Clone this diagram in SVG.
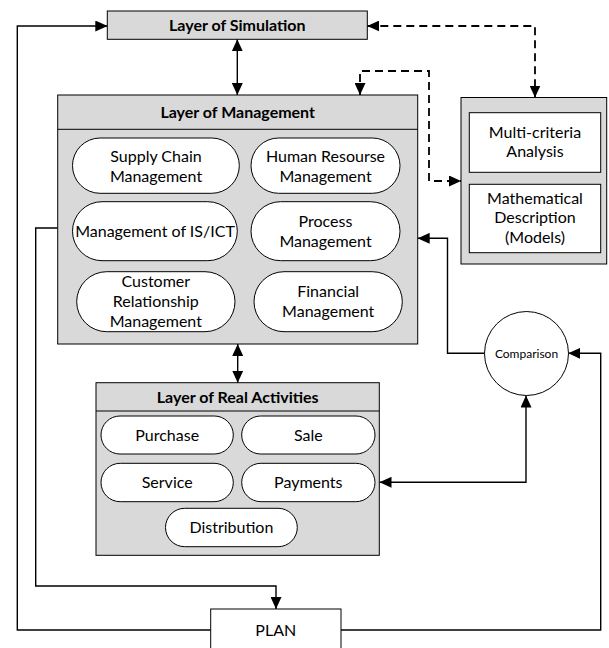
<svg xmlns="http://www.w3.org/2000/svg" width="609" height="648" viewBox="0 0 609 648">
<style>
  .layer { fill: #d9d9d9; stroke: #000; stroke-width: 1; }
  .white { fill: #fff; stroke: #000; stroke-width: 1; }
  .conn { fill: none; stroke: #000; stroke-width: 1.4; }
  .dash { fill: none; stroke: #000; stroke-width: 1.8; stroke-dasharray: 8 5; }
  .t { font-family: Lato, "Liberation Sans", sans-serif; font-size: 16px; fill: #000; text-anchor: middle; }
  .b { font-weight: bold; }
  .s { font-size: 12px; }
</style>
<defs>
  <marker id="arr" markerUnits="userSpaceOnUse" markerWidth="12" markerHeight="11" viewBox="0 0 12 11" refX="12" refY="5.5" orient="auto-start-reverse">
    <path d="M0,0 L12,5.5 L0,11 z" fill="#000"/>
  </marker>
</defs>

<g id="connectors">
  <path class="conn" d="M210.7,630 H17.3 V26 H107.3" marker-end="url(#arr)"/>
  <path class="conn" d="M341,630 H600.7 V353.3 H568.3" marker-end="url(#arr)"/>
  <path class="conn" d="M57.7,228 H35.7 V586 H276 V609" marker-end="url(#arr)"/>
  <path class="conn" d="M237.3,39.3 V95" marker-start="url(#arr)" marker-end="url(#arr)"/>
  <path class="conn" d="M237.7,344 V382.7" marker-start="url(#arr)" marker-end="url(#arr)"/>
  <path class="conn" d="M485,353.3 H447.5 V238.3 H417.7" marker-end="url(#arr)"/>
  <path class="conn" d="M379.5,482.3 H526 V395.5" marker-start="url(#arr)" marker-end="url(#arr)"/>
  <path class="dash" d="M367.3,26 H535 V97.5" marker-start="url(#arr)" marker-end="url(#arr)"/>
  <path class="dash" d="M360,95 V71 H429 V181 H461" marker-start="url(#arr)" marker-end="url(#arr)"/>
</g>

<g id="layer-simulation">
  <rect class="layer" x="107.3" y="11" width="260" height="28.3"/>
  <text class="t b" x="237.3" y="30.5">Layer of Simulation</text>
</g>

<g id="layer-management">
  <rect class="layer" x="57.7" y="95" width="360" height="249"/>
  <line x1="57.7" y1="129.3" x2="417.7" y2="129.3" stroke="#000" stroke-width="1"/>
  <text class="t b" x="237.7" y="117.5">Layer of Management</text>
</g>
<g id="supply-chain">
  <rect class="white" x="72.5" y="138" width="166.8" height="55.3" rx="27.6"/>
  <text class="t" x="156" y="161.5">Supply Chain</text>
  <text class="t" x="156" y="181.5">Management</text>
</g>
<g id="human-resourse">
  <rect class="white" x="251" y="138" width="149" height="55.3" rx="27.6"/>
  <text class="t" x="325.5" y="161.5">Human Resourse</text>
  <text class="t" x="325.5" y="181.5">Management</text>
</g>
<g id="is-ict">
  <rect class="white" x="72.5" y="201.7" width="164.8" height="59" rx="29.5"/>
  <text class="t" x="155" y="236.7">Management of IS/ICT</text>
</g>
<g id="process">
  <rect class="white" x="251" y="201.7" width="149" height="59" rx="29.5"/>
  <text class="t" x="325.5" y="226.7">Process</text>
  <text class="t" x="325.5" y="246.7">Management</text>
</g>
<g id="customer">
  <rect class="white" x="76.7" y="271.7" width="158.3" height="60" rx="30"/>
  <text class="t" x="155.8" y="287">Customer</text>
  <text class="t" x="155.8" y="307">Relationship</text>
  <text class="t" x="155.8" y="327">Management</text>
</g>
<g id="financial">
  <rect class="white" x="254" y="271.7" width="148.3" height="60" rx="30"/>
  <text class="t" x="328.2" y="296.5">Financial</text>
  <text class="t" x="328.2" y="316.5">Management</text>
</g>

<g id="analysis-group">
  <rect class="layer" x="461" y="97.5" width="145.7" height="166.5"/>
</g>
<g id="multi-criteria">
  <rect class="white" x="469.3" y="112.7" width="131.4" height="59.6"/>
  <text class="t" x="535" y="137.5">Multi-criteria</text>
  <text class="t" x="535" y="157.3">Analysis</text>
</g>
<g id="mathematical">
  <rect class="white" x="469.3" y="184.3" width="131.4" height="68.4"/>
  <text class="t" x="535" y="203.5">Mathematical</text>
  <text class="t" x="535" y="223">Description</text>
  <text class="t" x="535" y="242.5">(Models)</text>
</g>

<g id="comparison">
  <circle class="white" cx="526.5" cy="353.5" r="42"/>
  <text class="t s" x="526.5" y="357.5">Comparison</text>
</g>

<g id="layer-real">
  <rect class="layer" x="96" y="382.7" width="283.3" height="172.6"/>
  <line x1="96" y1="411" x2="379.3" y2="411" stroke="#000" stroke-width="1"/>
  <text class="t b" x="237.7" y="402.5">Layer of Real Activities</text>
</g>
<g id="purchase">
  <rect class="white" x="101" y="416" width="132.3" height="38" rx="19"/>
  <text class="t" x="167.2" y="440.5">Purchase</text>
</g>
<g id="sale">
  <rect class="white" x="241.7" y="416" width="133.3" height="38" rx="19"/>
  <text class="t" x="308.3" y="440.5">Sale</text>
</g>
<g id="service">
  <rect class="white" x="101" y="463.3" width="132.3" height="38.4" rx="19.2"/>
  <text class="t" x="167.2" y="488">Service</text>
</g>
<g id="payments">
  <rect class="white" x="241.7" y="463.3" width="133.3" height="38.4" rx="19.2"/>
  <text class="t" x="308.3" y="488">Payments</text>
</g>
<g id="distribution">
  <rect class="white" x="165.5" y="508.3" width="131.8" height="38.4" rx="19.2"/>
  <text class="t" x="231.4" y="533">Distribution</text>
</g>

<g id="plan">
  <rect class="white" x="210.7" y="609" width="130.3" height="50"/>
  <text class="t" x="275.8" y="635.5">PLAN</text>
</g>
</svg>
